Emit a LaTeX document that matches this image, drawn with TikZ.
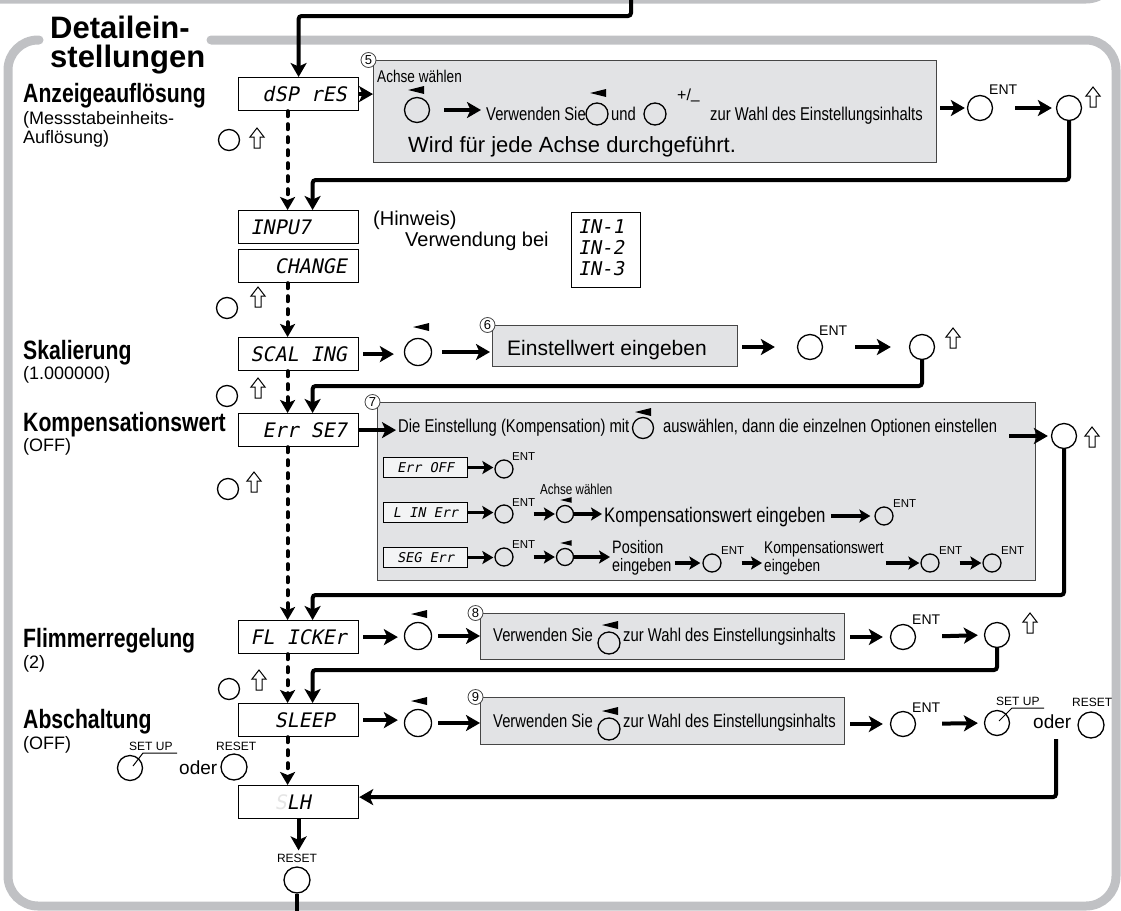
\documentclass[tikz,border=0pt]{standalone}
\usepackage{fontspec}
\setmainfont{Liberation Sans}
\newfontfamily\condf[FakeStretch=0.8]{Liberation Sans}
\newfontfamily\lcdf[FakeSlant=0.2]{DejaVu Sans Mono}
\usetikzlibrary{arrows.meta,calc}
\definecolor{framegray}{RGB}{192,193,196}
\definecolor{boxgray}{RGB}{226,227,229}
\definecolor{boxline}{RGB}{70,70,70}
\newcommand\blk{\hphantom{0}}
\newcommand\fs[1]{\fontsize{#1}{#1}\selectfont}
\tikzset{
 frm/.style={draw=framegray, line width=9, line cap=round},
 lcd/.style={draw, line width=1.2, fill=white, minimum width=120pt, minimum height=33pt, inner sep=0, anchor=north west, font={\lcdf\fs{20}}},
 slcd/.style={draw, line width=1, fill=white!60!boxgray, minimum width=84pt, minimum height=20pt, inner sep=0, anchor=north west, font={\lcdf\fs{13.5}}},
 gbox/.style={draw=boxline, line width=1.1, fill=boxgray, inner sep=0, anchor=north west},
 num/.style={circle, draw=boxline, line width=0.8, fill=white, inner sep=0, minimum size=15pt, font=\fs{13}},
 btn/.style={circle, draw, line width=1.3, inner sep=0, minimum size=#1},
 btn/.default=25pt,
 lbl/.style={inner sep=0, anchor=base west},
 boldlbl/.style={lbl, font={\condf\bfseries\fs{26.5}}},
 sublbl/.style={lbl, font=\fs{18}},
 ct/.style={lbl, font={\condf\fs{18.5}}},
 ent/.style={lbl, font=\fs{14}},
 sent/.style={lbl, font=\fs{11.5}},
 keytxt/.style={lbl, font=\fs{12}},
 arr/.style={line width=4, -{Stealth[length=14pt,width=16pt,inset=3.5pt]}},
 sarr/.style={line width=3.5, -{Stealth[length=11pt,width=13pt,inset=2.5pt]}},
 dsh/.style={line width=4, dash pattern=on 5pt off 8pt, line cap=round, -{Stealth[length=13pt,width=15pt,inset=3pt]}},
 ret/.style={arr, rounded corners=3},
 tri/.pic={\fill (-8,0) -- (8,-4) -- (8,4) -- cycle;},
 uparr/.pic={\draw[line width=1, fill=white, line join=miter] (-3,0) -- (3,0) -- (3,-11) -- (7,-11) -- (0,-20) -- (-7,-11) -- (-3,-11) -- cycle;},
}
\begin{document}
\begin{tikzpicture}[x=1pt, y=-1pt]
\useasboundingbox (0,0) rectangle (1121,910);
\clip (0,0) rectangle (1121,910);

% frames
\draw[frm, rounded corners=30] (-30,-1) -- (1116,-1) -- (1116,-100);
\draw[frm, rounded corners=30] (211,40) -- (1116,40) -- (1116,906) -- (8,906) -- (8,40) -- (39,40);

% title
\node[lbl, font={\bfseries\fs{31}}] (ti1) at (50,38) {Detailein-};
\node[lbl, font={\bfseries\fs{31}}] (ti2) at (50,67) {stellungen};

% left labels
\node[boldlbl] (l1) at (23,102) {Anzeigeauflösung};
\node[sublbl] (l1a) at (23,124) {(Messstabeinheits-};
\node[sublbl] (l1b) at (23,143) {Auflösung)};
\node[boldlbl] (l2) at (23,359) {Skalierung};
\node[sublbl] (l2a) at (23,379) {(1.000000)};
\node[boldlbl] (l3) at (23,431) {Kompensationswert};
\node[sublbl] (l3a) at (23,451) {(OFF)};
\node[boldlbl] (l4) at (23,647) {Flimmerregelung};
\node[sublbl] (l4a) at (23,668) {(2)};
\node[boldlbl] (l5) at (23,728) {Abschaltung};
\node[sublbl] (l5a) at (23,749) {(OFF)};

% LCD column
\node[lcd] (dsp) at (238,77) {\blk dSP rES};
\node[lcd] (inp) at (238,210) {INPU7\blk\blk\blk};
\node[lcd] (chg) at (238,249) {\blk\blk CHANGE};
\node[lcd] (scl) at (238,337) {SCAL ING};
\node[lcd] (err) at (238,413) {\blk Err SE7};
\node[lcd] (flk) at (238,620) {FL ICKEr};
\node[lcd] (slp) at (238,703) {\blk\blk SLEEP\blk};
\node[lcd] (slh) at (238,785) {\blk\blk{\color{black!10}S}LH\blk\blk\blk};

% left buttons with up arrows
\node[btn=21pt] (c1) at (229,140) {};
\pic at (257,148) {uparr};
\node[btn=21pt] (c2) at (227,308) {};
\pic at (258,307) {uparr};
\node[btn=21pt] (c3) at (227,396) {};
\pic at (258,398) {uparr};
\node[btn=21pt] (c4) at (228,489) {};
\pic at (254,492) {uparr};
\node[btn=21pt] (c5) at (229,689) {};
\pic at (259,690) {uparr};

% entry line
\coordinate (entry) at (631,-10);
\draw[arr, rounded corners=3] (entry) |- (dsp.north |- 0,16) -- (dsp.north);

% ---------- row 1 : box 5
\node[gbox, minimum width=563pt, minimum height=102pt] (b5) at (373,60) {};
\node[num] (n5) at ($(b5.north west)+(-4.5,0)$) {5};
\node[lbl, font={\condf\fs{17}}] (t5a) at (377,82) {Achse wählen};
\pic at (416,90) {tri};
\node[btn] (b5a) at (417,110) {};
\node[ct] (t5b) at (486,120) {Verwenden Sie};
\pic at (598,93) {tri};
\node[btn=22pt] (b5b) at (597,114) {};
\node[ct] (t5c) at (611,120) {und};
\node[btn=22pt] (b5c) at (655,114) {};
\node[lbl, font=\fs{16}] (t5d) at (677,100) {+/\raisebox{-5pt}{–}};
\node[ct] (t5e) at (710,120) {zur Wahl des Einstellungsinhalts};
\node[lbl, font=\fs{22}] (t5f) at (408,152) {Wird für jede Achse durchgeführt.};
\node[btn] (e1) at (980,108) {};
\node[ent] (e1t) at (989,94) {ENT};
\node[btn] (r1) at (1069,108) {};
\pic at (1093,107) {uparr};

\draw[arr] (dsp.east) -- (dsp.east -| b5.west);
\draw[arr, shorten <=14pt, shorten >=5pt] (b5a.east) -- (b5a.east -| t5b.west);
\draw[arr, shorten <=3pt, shorten >=2pt] (b5.east |- e1) -- (e1.west);
\draw[arr, shorten <=22pt, shorten >=4pt] (e1.east) -- (r1.west);
\draw[ret] (r1.south) |- ($(inp.north)+(14,-30)$) -- ($(inp.north)+(14,0)$);
\draw[dsh] ($(dsp.south)+(-11,0)$) -- ($(inp.north)+(-11,0)$);

% ---------- INPUT note
\node[lbl, font=\fs{20}] (h1) at (373,225) {(Hinweis)};
\node[lbl, font=\fs{20}] (h2) at (405,246) {Verwendung bei};
\node[draw, line width=1.2, fill=white, minimum width=69pt, minimum height=75pt, anchor=north west, inner sep=0] (inb) at (571,212) {};
\node[lbl, font={\lcdf\fs{19}}] (in1) at (578,233) {IN-1};
\node[lbl, font={\lcdf\fs{19}}] (in2) at (578,254) {IN-2};
\node[lbl, font={\lcdf\fs{19}}] (in3) at (578,275) {IN-3};
\draw[dsh] ($(chg.south)+(-11,0)$) -- ($(scl.north)+(-11,0)$);

% ---------- SCALING row : box 6
\pic at (421,327) {tri};
\node[btn=27pt] (s6a) at (418,352) {};
\node[gbox, minimum width=245pt, minimum height=41pt] (b6) at (492,325) {};
\node[num] (n6) at ($(b6.north west)+(-4.5,0)$) {6};
\node[lbl, font=\fs{21}] (t6) at (507,355) {Einstellwert eingeben};
\node[btn] (e2) at (810,347) {};
\node[ent] (e2t) at (819,335) {ENT};
\node[btn] (r2) at (922,347) {};
\pic at (953,348) {uparr};
\draw[arr, shorten <=4pt, shorten >=10pt] (scl.east) -- (scl.east -| s6a.west);
\draw[arr, shorten <=10pt, shorten >=2pt] (s6a.east) -- (s6a.east -| b6.west);
\draw[arr, shorten <=4pt, shorten >=22pt] (b6.east |- e2) -- (e2.west);
\draw[arr, shorten <=32pt, shorten >=18pt] (e2.east) -- (r2.west);
\draw[ret] (r2.south) |- ($(err.north)+(14,-27)$) -- ($(err.north)+(14,0)$);
\draw[dsh] ($(scl.south)+(-11,0)$) -- ($(err.north)+(-11,0)$);

% ---------- Err SET row : box 7
\node[gbox, minimum width=658pt, minimum height=178pt] (b7) at (377,402) {};
\node[num] (n7) at ($(b7.north west)+(-4.5,0)$) {7};
\node[ct] (t7a) at (398,432) {Die Einstellung (Kompensation) mit};
\pic at (643,412) {tri};
\node[btn=21pt] (b7a) at (643,428) {};
\node[ct] (t7b) at (663,432) {auswählen, dann die einzelnen Optionen einstellen};
\node[btn] (r7) at (1064,436) {};
\pic at (1092,447) {uparr};
\draw[arr, shorten >=2pt] (err.east) -- (err.east -| t7a.west);
\draw[arr, shorten <=12pt, shorten >=3pt] (t7b.east |- r7) -- (r7.west);
\draw[ret] (r7.south) |- ($(flk.north)+(14,-25)$) -- ($(flk.north)+(14,0)$);
\draw[dsh] ($(err.south)+(-11,0)$) -- ($(flk.north)+(-11,0)$);

% row Err OFF
\node[slcd] (x1) at (383,457) {Err OFF};
\node[btn=18pt] (x1b) at (504,469) {};
\node[sent] (x1t) at (512,460) {ENT};
\draw[sarr, shorten >=1pt] (x1.east) -- (x1.east -| x1b.west);

% row L IN Err
\node[lbl, font={\condf\fs{14.5}}] (ach) at (540,494) {Achse wählen};
\node[slcd] (x2) at (383,502) {L IN Err};
\node[btn=18pt] (x2b) at (504,514) {};
\node[sent] (x2t) at (512,506) {ENT};
\pic[scale=0.7] at (566,500) {tri};
\node[btn=17pt] (x2c) at (565,514) {};
\node[lbl, font={\condf\fs{21}}] (x2d) at (604,522) {Kompensationswert eingeben};
\node[btn=18pt] (x2e) at (884,516) {};
\node[sent] (x2f) at (893,507) {ENT};
\draw[sarr, shorten >=1pt] (x2.east) -- (x2.east -| x2b.west);
\draw[sarr, shorten <=20pt, shorten >=1pt] (x2b.east) -- (x2c.west);
\draw[sarr, shorten >=2pt] (x2c.east) -- (x2c.east -| x2d.west);
\draw[sarr, shorten <=5pt, shorten >=4pt] (x2d.east |- x2e) -- (x2e.west);

% row SEG Err
\node[slcd] (x3) at (383,547) {SEG Err};
\node[btn=18pt] (x3b) at (504,557) {};
\node[sent] (x3t) at (512,548) {ENT};
\pic[scale=0.7] at (566,543) {tri};
\node[btn=17pt] (x3c) at (565,557) {};
\node[lbl, font={\condf\fs{18}}] (x3d) at (612,553) {Position};
\node[lbl, font={\condf\fs{18}}] (x3e) at (612,571) {eingeben};
\node[btn=18pt] (x3f) at (712,563) {};
\node[sent] (x3g) at (721,554) {ENT};
\node[lbl, font={\condf\fs{17}}] (x3h) at (764,553) {Kompensationswert};
\node[lbl, font={\condf\fs{17}}] (x3i) at (764,571) {eingeben};
\node[btn=18pt] (x3j) at (930,563) {};
\node[sent] (x3k) at (939,554) {ENT};
\node[btn=18pt] (x3l) at (992,563) {};
\node[sent] (x3m) at (1001,554) {ENT};
\draw[sarr, shorten >=1pt] (x3.east) -- (x3.east -| x3b.west);
\draw[sarr, shorten <=20pt, shorten >=1pt] (x3b.east) -- (x3c.west);
\draw[sarr, shorten >=2pt] (x3c.east) -- (x3c.east -| x3d.west);
\draw[sarr, shorten <=3pt, shorten >=2pt] (x3e.east |- x3f) -- (x3f.west);
\draw[sarr, shorten <=20pt, shorten >=2pt] (x3f.east) -- (x3f.east -| x3h.west);
\draw[sarr, shorten <=2pt, shorten >=1pt] (x3h.east |- x3j) -- (x3j.west);
\draw[sarr, shorten <=20pt, shorten >=1pt] (x3j.east) -- (x3l.west);

% ---------- FLICKER row : box 8
\pic at (419,614) {tri};
\node[btn=27pt] (f1) at (418,636) {};
\node[gbox, minimum width=364pt, minimum height=46pt] (b8) at (480,613) {};
\node[num] (n8) at ($(b8.north west)+(-4.5,0)$) {8};
\node[ct] (t8a) at (493,641) {Verwenden Sie};
\pic at (610,625) {tri};
\node[btn=22pt] (b8a) at (609,643) {};
\node[ct] (t8b) at (623,641) {zur Wahl des Einstellungsinhalts};
\node[btn] (e8) at (903,637) {};
\node[ent] (e8t) at (912,624) {ENT};
\node[btn] (r8) at (997,635) {};
\pic at (1030,633) {uparr};
\draw[arr, shorten <=4pt, shorten >=6pt] (flk.east) -- (flk.east -| f1.west);
\draw[arr, shorten <=6pt] (f1.east) -- (f1.east -| b8.west);
\draw[arr, shorten <=5pt, shorten >=7pt] (b8.east |- e8) -- (e8.west);
\draw[arr, shorten <=26pt, shorten >=6pt] (e8.east) -- (r8.west);
\draw[ret] (r8.south) |- ($(slp.north)+(14,-33)$) -- ($(slp.north)+(14,0)$);
\draw[dsh] ($(flk.south)+(-11,0)$) -- ($(slp.north)+(-11,0)$);

% ---------- SLEEP row : box 9
\pic at (419,701) {tri};
\node[btn=27pt] (s1) at (418,723) {};
\node[gbox, minimum width=364pt, minimum height=47pt] (b9) at (480,697) {};
\node[num] (n9) at ($(b9.north west)+(-4.5,0)$) {9};
\node[ct] (t9a) at (493,727) {Verwenden Sie};
\pic at (610,711) {tri};
\node[btn=22pt] (b9a) at (609,729) {};
\node[ct] (t9b) at (623,727) {zur Wahl des Einstellungsinhalts};
\node[btn] (e9) at (903,724) {};
\node[ent] (e9t) at (912,712) {ENT};
\node[btn] (su) at (997,723) {};
\node[keytxt] (sut) at (996,705) {SET UP};
\draw[line width=1] ($(su)+(2,-2)$) -- ($(su)+(15,-15)$) -- ($(su)+(47,-15)$);
\node[lbl, font=\fs{19}] (od9) at (1033,728) {oder};
\node[btn=26pt] (rs9) at (1091,725) {};
\node[keytxt] (rs9t) at (1072,706) {RESET};
\coordinate (o9) at (1056,739);
\draw[arr, shorten <=4pt, shorten >=6pt] (slp.east) -- (slp.east -| s1.west);
\draw[arr, shorten <=6pt] (s1.east) -- (s1.east -| b9.west);
\draw[arr, shorten <=5pt, shorten >=7pt] (b9.east |- e9) -- (e9.west);
\draw[arr, shorten <=26pt, shorten >=6pt] (e9.east) -- (su.west);
\draw[ret] (o9) |- ($(slh.east)+(0,-5)$);
\draw[dsh] ($(slp.south)+(-11,0)$) -- ($(slh.north)+(-11,0)$);

% left SET UP / RESET
\node[btn] (lsu) at (130,768) {};
\node[keytxt] (lsut) at (129,750) {SET UP};
\draw[line width=1] ($(lsu)+(3,-2)$) -- ($(lsu)+(13,-15)$) -- ($(lsu)+(47,-15)$);
\node[lbl, font=\fs{19}] (od5) at (179,774) {oder};
\node[btn=26pt] (lrs) at (234,767) {};
\node[keytxt] (lrst) at (216,750) {RESET};

% bottom RESET
\node[keytxt, anchor=base] (brt) at (297,862) {RESET};
\node[btn=26pt] (brs) at (297,880) {};
\draw[arr, shorten >=3pt] (slh.south) -- (slh.south |- brt.north);
\coordinate (bout) at (297,915);
\draw[line width=4] (brs.south) -- (bout);
\end{tikzpicture}
\end{document}
